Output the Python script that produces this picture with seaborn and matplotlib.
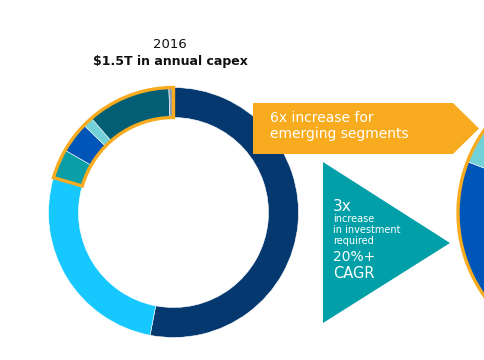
import matplotlib
matplotlib.use("Agg")
import matplotlib.pyplot as plt
import seaborn as sns
from matplotlib.patches import Polygon, Wedge

sns.set_style("white")
plt.rcParams["font.family"] = ["DejaVu Sans"]

# segment shares (percent of annual capex)
segments = ["Core A", "Core B", "Emerging 1", "Emerging 2", "Emerging 3", "Emerging 4", "Other"]
share_2016 = [53.0, 26.5, 3.8, 4.0, 1.3, 10.8, 0.6]
share_future = [30.0, 14.0, 11.5, 25.3, 6.0, 13.2, 0.0]
colors = ["#04386f", "#17c8ff", "#0a9ea6", "#0055b8", "#72d1d8", "#015e75", "#8aa0b8"]
emerging_from = 2  # index where emerging segments start

title_year = "2016"
title_value = "$1.5T in annual capex"
arrow_text = "6x increase for\nemerging segments"
tri_lines = [("3x", 11), ("increase", 7), ("in investment", 7), ("required", 7), ("20%+", 10), ("CAGR", 10.5)]

ORANGE = "#f8ab1e"
TEAL = "#01a0a8"
H = 360


def donut(ax, values, center, radius, width):
    ax.pie(values, colors=colors, startangle=90, counterclock=False,
           center=center, radius=radius,
           wedgeprops=dict(width=width, edgecolor="white", linewidth=0.4))
    total = sum(values)
    start = 90 - 360 * sum(values[:emerging_from]) / total
    ax.add_patch(Wedge(center, radius, 90, start, width=width, facecolor="none",
                       edgecolor=ORANGE, linewidth=2.4, zorder=5))


fig = plt.figure(figsize=(4.85, 3.6), dpi=100)
ax = fig.add_axes([0, 0, 1, 1])

donut(ax, share_2016, (173.5, H - 212.5), 125, 30)
donut(ax, share_future, (602, H - 213), 144, 60)

# orange arrow
ax.add_patch(Polygon([(253, H - 103), (453, H - 103), (479, H - 128.5),
                      (453, H - 154), (253, H - 154)], closed=True,
                     facecolor=ORANGE, edgecolor="none", zorder=6))
ax.text(270, H - 126, arrow_text, color="white", fontsize=10, va="center",
        ha="left", linespacing=1.25, zorder=7)

# teal triangle
ax.add_patch(Polygon([(323, H - 162), (450, H - 243), (323, H - 323)], closed=True,
                     facecolor=TEAL, edgecolor="none", zorder=6))
ys = [207, 219, 230, 241.5, 257, 273]
for (txt, fs), y in zip(tri_lines, ys):
    ax.text(333, H - y, txt, color="white", fontsize=fs, va="center", ha="left", zorder=7)

ax.text(170, H - 45, title_year, fontsize=9.5, ha="center", va="center", color="#111111")
ax.text(170, H - 61, title_value, fontsize=9, fontweight="bold", ha="center",
        va="center", color="#111111")

ax.set_xlim(0, 485)
ax.set_ylim(0, H)
ax.set_aspect("equal")
ax.axis("off")

fig.savefig("out.png", dpi=100)
